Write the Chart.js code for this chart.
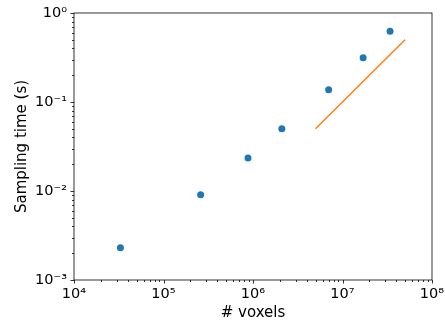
<!DOCTYPE html>
<html>
<head>
<meta charset="utf-8">
<script src="https://cdn.jsdelivr.net/npm/chart.js@4/dist/chart.umd.min.js"></script>
<style>
  html, body { margin: 0; padding: 0; background: #fff; }
  #wrap { width: 445px; height: 322px; }
</style>
</head>
<body>
<div id="wrap"><canvas id="chart" width="445" height="322"></canvas></div>
<script>
// measured sampling times
const voxels = [3.3e4, 2.6e5, 8.8e5, 2.1e6, 7.0e6, 1.7e7, 3.4e7];
const times  = [0.0023, 0.0091, 0.0235, 0.050, 0.137, 0.315, 0.625];

// reference slope line
const refX = [5e6, 5e7];
const refY = [0.05, 0.5];

// axis ticks
const xTickValues = [1e4, 1e5, 1e6, 1e7, 1e8];
const xTickLabels = ['10⁴', '10⁵', '10⁶', '10⁷', '10⁸'];
const yTickValues = [1e-3, 1e-2, 1e-1, 1e0];
const yTickLabels = ['10⁻³', '10⁻²', '10⁻¹', '10⁰'];

const FONT = 'DejaVu Sans';
const AREA = { left: 74, right: 432, top: 13, bottom: 280 };

// major + minor (2..9) tick values for each decade
function logTicks(majors) {
  const out = [];
  majors.forEach((m, i) => {
    out.push({ value: m });
    if (i < majors.length - 1) for (let k = 2; k <= 9; k++) out.push({ value: m * k });
  });
  return out;
}
const isMajor = v => Math.abs(Math.log10(v) - Math.round(Math.log10(v))) < 1e-9;

const frame = {
  id: 'frame',
  afterDraw(chart) {
    const { ctx, chartArea: a, scales: { x, y } } = chart;
    ctx.save();
    ctx.strokeStyle = '#000';
    ctx.lineWidth = 0.8;
    ctx.strokeRect(a.left, a.top, a.right - a.left, a.bottom - a.top);
    ctx.beginPath();
    x.ticks.forEach(t => {
      const px = Math.round(x.getPixelForValue(t.value)) + 0.5;
      const len = isMajor(t.value) ? 3.5 : 2;
      ctx.moveTo(px, a.bottom); ctx.lineTo(px, a.bottom + len);
    });
    y.ticks.forEach(t => {
      const py = Math.round(y.getPixelForValue(t.value)) + 0.5;
      const len = isMajor(t.value) ? 3.5 : 2;
      ctx.moveTo(a.left, py); ctx.lineTo(a.left - len, py);
    });
    ctx.stroke();
    ctx.restore();
  }
};

new Chart(document.getElementById('chart'), {
  type: 'scatter',
  data: {
    datasets: [
      {
        label: 'sampling time',
        data: voxels.map((v, i) => ({ x: v, y: times[i] })),
        backgroundColor: '#1f77b4', borderColor: '#1f77b4',
        pointRadius: 3.5, pointHoverRadius: 3.5, borderWidth: 0
      },
      {
        label: 'reference',
        data: refX.map((v, i) => ({ x: v, y: refY[i] })),
        showLine: true, borderColor: '#ff7f0e', borderWidth: 1.5,
        pointRadius: 0, fill: false
      }
    ]
  },
  options: {
    responsive: false, animation: false,
    layout: { padding: { top: AREA.top, right: 445 - AREA.right, left: 0, bottom: 0 } },
    plugins: { legend: { display: false }, tooltip: { enabled: false } },
    scales: {
      x: {
        type: 'logarithmic', min: 1e4, max: 1e8,
        afterBuildTicks: s => { s.ticks = logTicks(xTickValues); },
        afterFit: s => { s.height = 322 - AREA.bottom; s.paddingLeft = 0; s.paddingRight = 0; },
        grid: { display: false, drawTicks: false },
        border: { display: false },
        ticks: {
          autoSkip: false, maxRotation: 0, padding: 6, color: '#000',
          font: { family: FONT, size: 14.5 },
          callback: v => { const i = xTickValues.findIndex(m => Math.abs(m - v) / m < 1e-9); return i >= 0 ? xTickLabels[i] : ''; }
        },
        title: { display: true, text: '# voxels', color: '#000', font: { family: FONT, size: 15 }, padding: { top: 0, bottom: 0 } }
      },
      y: {
        type: 'logarithmic', min: 1e-3, max: 1e0,
        afterBuildTicks: s => { s.ticks = logTicks(yTickValues); },
        afterFit: s => { s.width = AREA.left; s.paddingTop = 0; s.paddingBottom = 0; },
        grid: { display: false, drawTicks: false },
        border: { display: false },
        ticks: {
          autoSkip: false, padding: 7, color: '#000',
          font: { family: FONT, size: 14.5 },
          callback: v => { const i = yTickValues.findIndex(m => Math.abs(m - v) / m < 1e-9); return i >= 0 ? yTickLabels[i] : ''; }
        },
        title: { display: true, text: 'Sampling time (s)', color: '#000', font: { family: FONT, size: 15 }, padding: { top: 13, bottom: 0 } }
      }
    }
  },
  plugins: [frame]
});
</script>
</body>
</html>
